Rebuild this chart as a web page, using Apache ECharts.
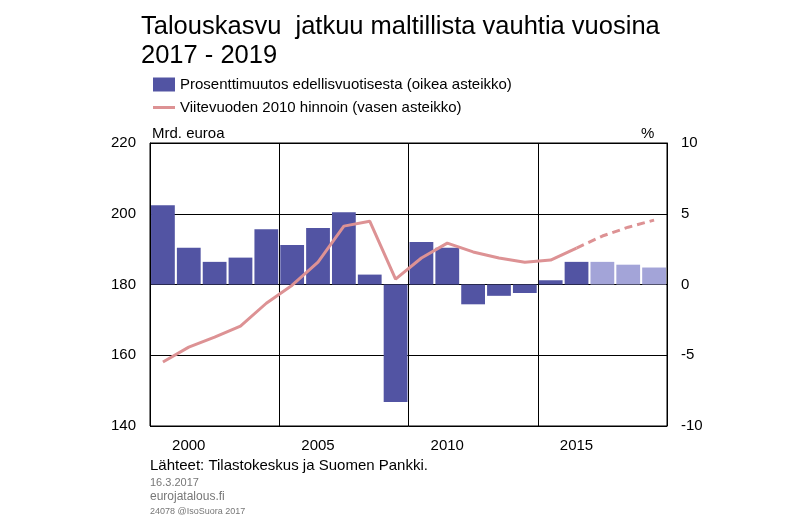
<!DOCTYPE html><html><head><meta charset="utf-8"><script src="https://cdn.jsdelivr.net/npm/echarts@6/dist/echarts.min.js"></script></head><body style="margin:0"><div id="c" style="width:800px;height:524px"></div><script>
const years=['1999','2000','2001','2002','2003','2004','2005','2006','2007','2008','2009','2010','2011','2012','2013','2014','2015','2016','2017','2018'];
const growth=[5.6,2.6,1.6,1.9,3.9,2.8,4.0,5.1,0.7,-8.3,3.0,2.6,-1.4,-0.8,-0.6,0.3,1.6,1.6,1.4,1.2];
const gdp=[158.1,162.3,165.1,168.2,174.7,179.8,186.3,196.5,197.9,181.5,187.5,191.7,189.2,187.5,186.3,186.9,190.3,193.7,196.2,198.2];
const barForecastFrom=17, lineForecastFrom=16;
const ch=echarts.init(document.getElementById('c'));
const F='Arial, Liberation Sans, sans-serif';
ch.setOption({
animation:false,
textStyle:{fontFamily:F},
title:{text:'Talouskasvu  jatkuu maltillista vauhtia vuosina\n2017 - 2019',left:136,top:7,textStyle:{fontSize:25.5,fontWeight:'normal',color:'#000',lineHeight:29,fontFamily:F}},
legend:{orient:'vertical',left:148,top:72,itemGap:8,itemWidth:22,itemHeight:14,textStyle:{fontSize:15,color:'#000'},data:[{name:'Prosenttimuutos edellisvuotisesta (oikea asteikko)',icon:'rect'},{name:'Viitevuoden 2010 hinnoin (vasen asteikko)',icon:'path://M0,6h22v3h-22z'}]},
grid:{left:150,right:133,top:143,bottom:98},
xAxis:{type:'category',data:years,axisTick:{show:false},axisLine:{show:false},
 axisLabel:{interval:0,fontSize:15,color:'#000',margin:12,formatter:v=>(+v%5===0?v:'')},
 splitLine:{show:true,interval:(i)=>i%5===0&&i>0,lineStyle:{color:'#000',width:1}}},
yAxis:[{type:'value',min:140,max:220,interval:20,axisLabel:{fontSize:15,color:'#000',margin:14},splitLine:{show:true,lineStyle:{color:'#000'}},axisLine:{show:true,lineStyle:{color:'#000'}},axisTick:{show:false}},
{type:'value',min:-10,max:10,interval:5,axisLabel:{fontSize:15,color:'#000',margin:14},splitLine:{show:false},axisLine:{show:true,lineStyle:{color:'#000'}},axisTick:{show:false}}],
graphic:[
{type:'rect',shape:{x:150,y:143,width:517,height:283},style:{fill:'none',stroke:'#000',lineWidth:1}},
{type:'text',left:152,top:126,style:{text:'Mrd. euroa',fontSize:15,fill:'#000',fontFamily:F}},
{type:'text',left:641,top:126,style:{text:'%',fontSize:15,fill:'#000',fontFamily:F}},
{type:'text',left:150,top:458,style:{text:'Lähteet: Tilastokeskus ja Suomen Pankki.',fontSize:15,fill:'#000',fontFamily:F}},
{type:'text',left:150,top:477,style:{text:'16.3.2017',fontSize:11,fill:'#777',fontFamily:F}},
{type:'text',left:150,top:491,style:{text:'eurojatalous.fi',fontSize:12,fill:'#777',fontFamily:F}},
{type:'text',left:150,top:507,style:{text:'24078 @IsoSuora 2017',fontSize:9,fill:'#777',fontFamily:F}}],
series:[
{name:'Prosenttimuutos edellisvuotisesta (oikea asteikko)',type:'bar',yAxisIndex:1,barCategoryGap:'8%',itemStyle:{color:'#5254a3'},
 data:growth.map((v,i)=>i>=barForecastFrom?{value:v,itemStyle:{color:'#a3a4d8'}}:v)},
{name:'Viitevuoden 2010 hinnoin (vasen asteikko)',type:'line',yAxisIndex:0,symbol:'none',lineStyle:{color:'#dd9294',width:3},itemStyle:{color:'#dd9294'},
 data:gdp.map((v,i)=>i<=lineForecastFrom?v:null)},
{name:'f',type:'line',yAxisIndex:0,symbol:'none',lineStyle:{color:'#dd9294',width:3,type:[8,5]},
 data:gdp.map((v,i)=>i>=lineForecastFrom?v:null)}
]});
</script></body></html>
